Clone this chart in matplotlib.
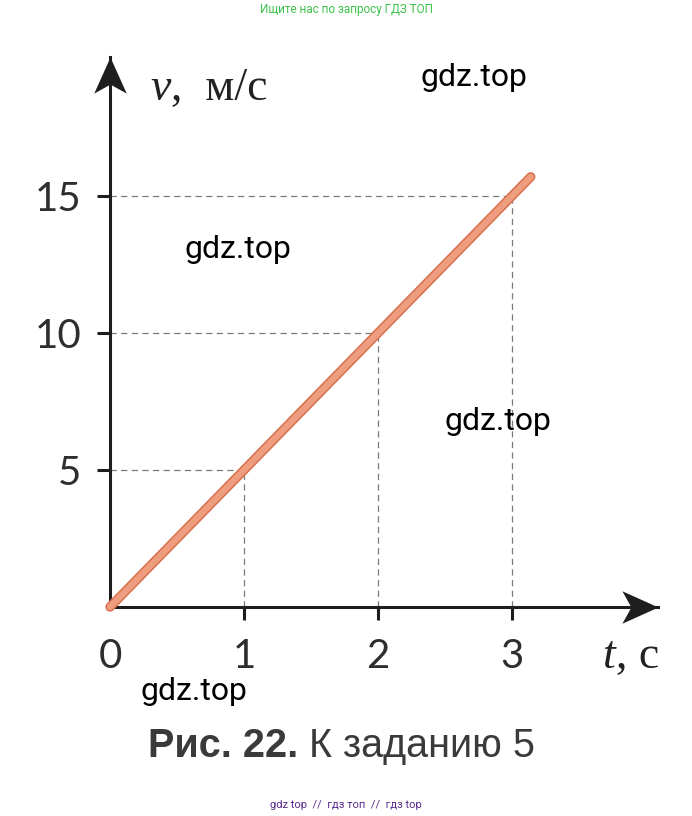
import matplotlib
matplotlib.use("Agg")
import matplotlib.pyplot as plt
import matplotlib.patheffects as pe
from matplotlib.path import Path

# data: v = 5 t
t_line = [0, 3.14]
v_line = [0, 15.7]
x_ticks = [0, 1, 2, 3]
y_ticks = [5, 10, 15]
guide_t = [1, 2, 3]
guide_v = [5, 10, 15]

W, H = 692, 816
fig = plt.figure(figsize=(W / 100, H / 100), dpi=100)
fig.patch.set_facecolor("white")

# origin at pixel (110, 607), 134 px per second, 27.4 px per m/s
x_max, y_max = 4.09, 20.07
ax = fig.add_axes([110 / W, (H - 607) / H, x_max * 134 / W, y_max * 27.4 / H])
ax.set_xlim(0, x_max)
ax.set_ylim(0, y_max)
ax.set_facecolor("none")

for s in ["top", "right"]:
    ax.spines[s].set_visible(False)
for s in ["left", "bottom"]:
    ax.spines[s].set_linewidth(2.2)
    ax.spines[s].set_color("#1e1e1e")

digit_font = dict(family="Lato", size=29, color="#2e2e2e")
ax.set_xticks(x_ticks)
ax.set_yticks(y_ticks)
ax.set_xticklabels([str(x) for x in x_ticks], fontdict=digit_font)
ax.set_yticklabels([str(y) for y in y_ticks], fontdict=digit_font)
ax.tick_params(direction="out", length=9.5, width=2.2, color="#1e1e1e")
ax.tick_params(axis="x", pad=13)
ax.tick_params(axis="y", pad=11)
ax.xaxis.get_major_ticks()[0].tick1line.set_visible(False)

# dashed guides
for t, v in zip(guide_t, guide_v):
    ax.plot([0, t], [v, v], color="#7a7a7a", lw=0.9, dashes=(5, 3.5), zorder=1)
    ax.plot([t, t], [0, v], color="#7a7a7a", lw=0.9, dashes=(5, 3.5), zorder=1)

# the v(t) line
ax.plot(t_line, v_line, color="#ee9d7e", lw=4.6, solid_capstyle="round",
        zorder=3, clip_on=False,
        path_effects=[pe.Stroke(linewidth=6.8, foreground="#d8704e"), pe.Normal()])

# stealth arrow heads at the ends of the axes
right_head = Path([(0, 0), (-1, 0.45), (-0.75, 0), (-1, -0.45), (0, 0)],
                  [Path.MOVETO, Path.LINETO, Path.LINETO, Path.LINETO, Path.CLOSEPOLY])
up_head = Path([(0, 0), (0.45, -1), (0, -0.75), (-0.45, -1), (0, 0)],
               [Path.MOVETO, Path.LINETO, Path.LINETO, Path.LINETO, Path.CLOSEPOLY])
ax.plot([x_max], [0], marker=right_head, markersize=52, color="#1e1e1e",
        mew=0, clip_on=False, zorder=5)
ax.plot([0], [y_max], marker=up_head, markersize=52, color="#1e1e1e",
        mew=0, clip_on=False, zorder=5)

# axis names
serif = "Liberation Serif"
vt = ax.text(0.30, 18.5, "v", family=serif, style="italic", size=33,
             color="#222222", va="baseline")
ax.annotate(",  м/с", xy=(1, 0), xycoords=vt, va="bottom", ha="left",
            family=serif, size=33, color="#222222")
tt = ax.text(3.68, -2.23, "t", family=serif, style="italic", size=33,
             color="#222222", va="baseline")
ax.annotate(", с", xy=(1, 0), xycoords=tt, va="bottom", ha="left",
            family=serif, size=33, color="#222222")

# caption
cap = fig.text(148 / W, (H - 757) / H, "Рис. 22.", family="Liberation Sans",
               weight="bold", size=28.5, color="#3a3a3a", va="baseline")
ax.annotate(" К заданию 5", xy=(1, 0), xycoords=cap, va="bottom", ha="left",
            family="Liberation Sans", size=28.5, color="#3a3a3a")

# watermark texts
for cx, by in [(474, 86), (238, 258), (498, 430), (194, 700)]:
    fig.text(cx / W, (H - by) / H, "gdz.top", family="Roboto", size=23,
             color="black", ha="center", va="baseline")
fig.text(346 / W, (H - 9) / H, "Ищите нас по запросу ГДЗ ТОП", family="Roboto",
         size=8.5, color="#3ec24b", ha="center", va="center")
fig.text(346 / W, (H - 805) / H, "gdz top  //  гдз топ  //  гдз top",
         family="Roboto", size=8, color="#5a2a8a", ha="center", va="center")

fig.savefig("out.png", dpi=100, facecolor="white")
